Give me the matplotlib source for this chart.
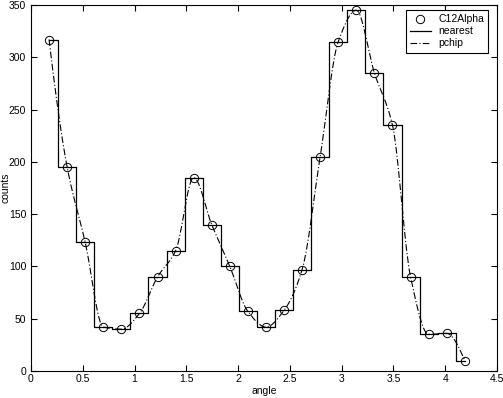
import numpy as np
import matplotlib.pyplot as plt

# C12Alpha data: angle (rad) and counts
angle = np.array([0.1745, 0.3491, 0.5236, 0.6981, 0.8727, 1.0472, 1.2217, 1.3963,
                  1.5708, 1.7453, 1.9199, 2.0944, 2.2689, 2.4435, 2.6180, 2.7925,
                  2.9671, 3.1416, 3.3161, 3.4907, 3.6652, 3.8397, 4.0143, 4.1888])
counts = np.array([317, 195, 123, 42, 40, 55, 90, 115,
                   185, 140, 100, 57, 42, 58, 97, 205,
                   315, 345, 285, 235, 90, 35, 36, 10])
xticks = [0, 0.5, 1, 1.5, 2, 2.5, 3, 3.5, 4, 4.5]
yticks = [0, 50, 100, 150, 200, 250, 300, 350]


def pchip_slopes(x, y):
    h = np.diff(x)
    d = np.diff(y) / h
    n = len(x)
    s = np.zeros(n)
    for k in range(1, n - 1):
        if d[k - 1] * d[k] > 0:
            w1 = 2 * h[k] + h[k - 1]
            w2 = h[k] + 2 * h[k - 1]
            s[k] = (w1 + w2) / (w1 / d[k - 1] + w2 / d[k])

    def end(h0, h1, d0, d1):
        e = ((2 * h0 + h1) * d0 - h0 * d1) / (h0 + h1)
        if np.sign(e) != np.sign(d0):
            e = 0.0
        elif np.sign(d0) != np.sign(d1) and abs(e) > abs(3 * d0):
            e = 3 * d0
        return e

    s[0] = end(h[0], h[1], d[0], d[1])
    s[-1] = end(h[-1], h[-2], d[-1], d[-2])
    return s


def pchip_eval(x, y, xi):
    s = pchip_slopes(x, y)
    idx = np.clip(np.searchsorted(x, xi) - 1, 0, len(x) - 2)
    h = x[idx + 1] - x[idx]
    t = (xi - x[idx]) / h
    h00 = 2 * t**3 - 3 * t**2 + 1
    h10 = t**3 - 2 * t**2 + t
    h01 = -2 * t**3 + 3 * t**2
    h11 = t**3 - t**2
    return h00 * y[idx] + h10 * h * s[idx] + h01 * y[idx + 1] + h11 * h * s[idx + 1]


xi = np.linspace(angle[0], angle[-1], 400)
yi = pchip_eval(angle, counts, xi)

plt.rcParams['font.family'] = ['Liberation Sans', 'DejaVu Sans']
fig = plt.figure(figsize=(5.03, 3.98), dpi=100)
ax = fig.add_axes([31 / 503, 27 / 398, 466 / 503, 366 / 398])

ax.plot(angle, counts, 'o', mfc='none', mec='black', ms=6, mew=0.7, label='C12Alpha')
ax.step(angle, counts, where='mid', color='black', lw=0.9, label='nearest')
ax.plot(xi, yi, color='black', lw=0.8, ls=(0, (6, 2, 1, 2)), label='pchip')

ax.set_xlim(0, 4.5)
ax.set_ylim(0, 350)
ax.set_xticks(xticks)
ax.set_xticklabels([f"{v:g}" for v in xticks])
ax.set_yticks(yticks)
ax.tick_params(direction='in', top=True, right=True, labelsize=7.5, length=4, width=0.8)
ax.tick_params(axis='x', pad=2.5)
for sp in ax.spines.values():
    sp.set_linewidth(0.8)
ax.set_xlabel('angle', fontsize=7.5, labelpad=1)
ax.set_ylabel('counts', fontsize=7.5)
ax.yaxis.set_label_coords(-20 / 466, 0.5)

leg = ax.legend(loc='upper right', bbox_to_anchor=(457 / 466, 361 / 366),
                fontsize=7.5, fancybox=False, framealpha=1,
                edgecolor='black', borderaxespad=0, handlelength=2.0,
                borderpad=0.4, labelspacing=0.2, handletextpad=0.7)
leg.get_frame().set_linewidth(0.8)

fig.savefig('out.png', dpi=100)
